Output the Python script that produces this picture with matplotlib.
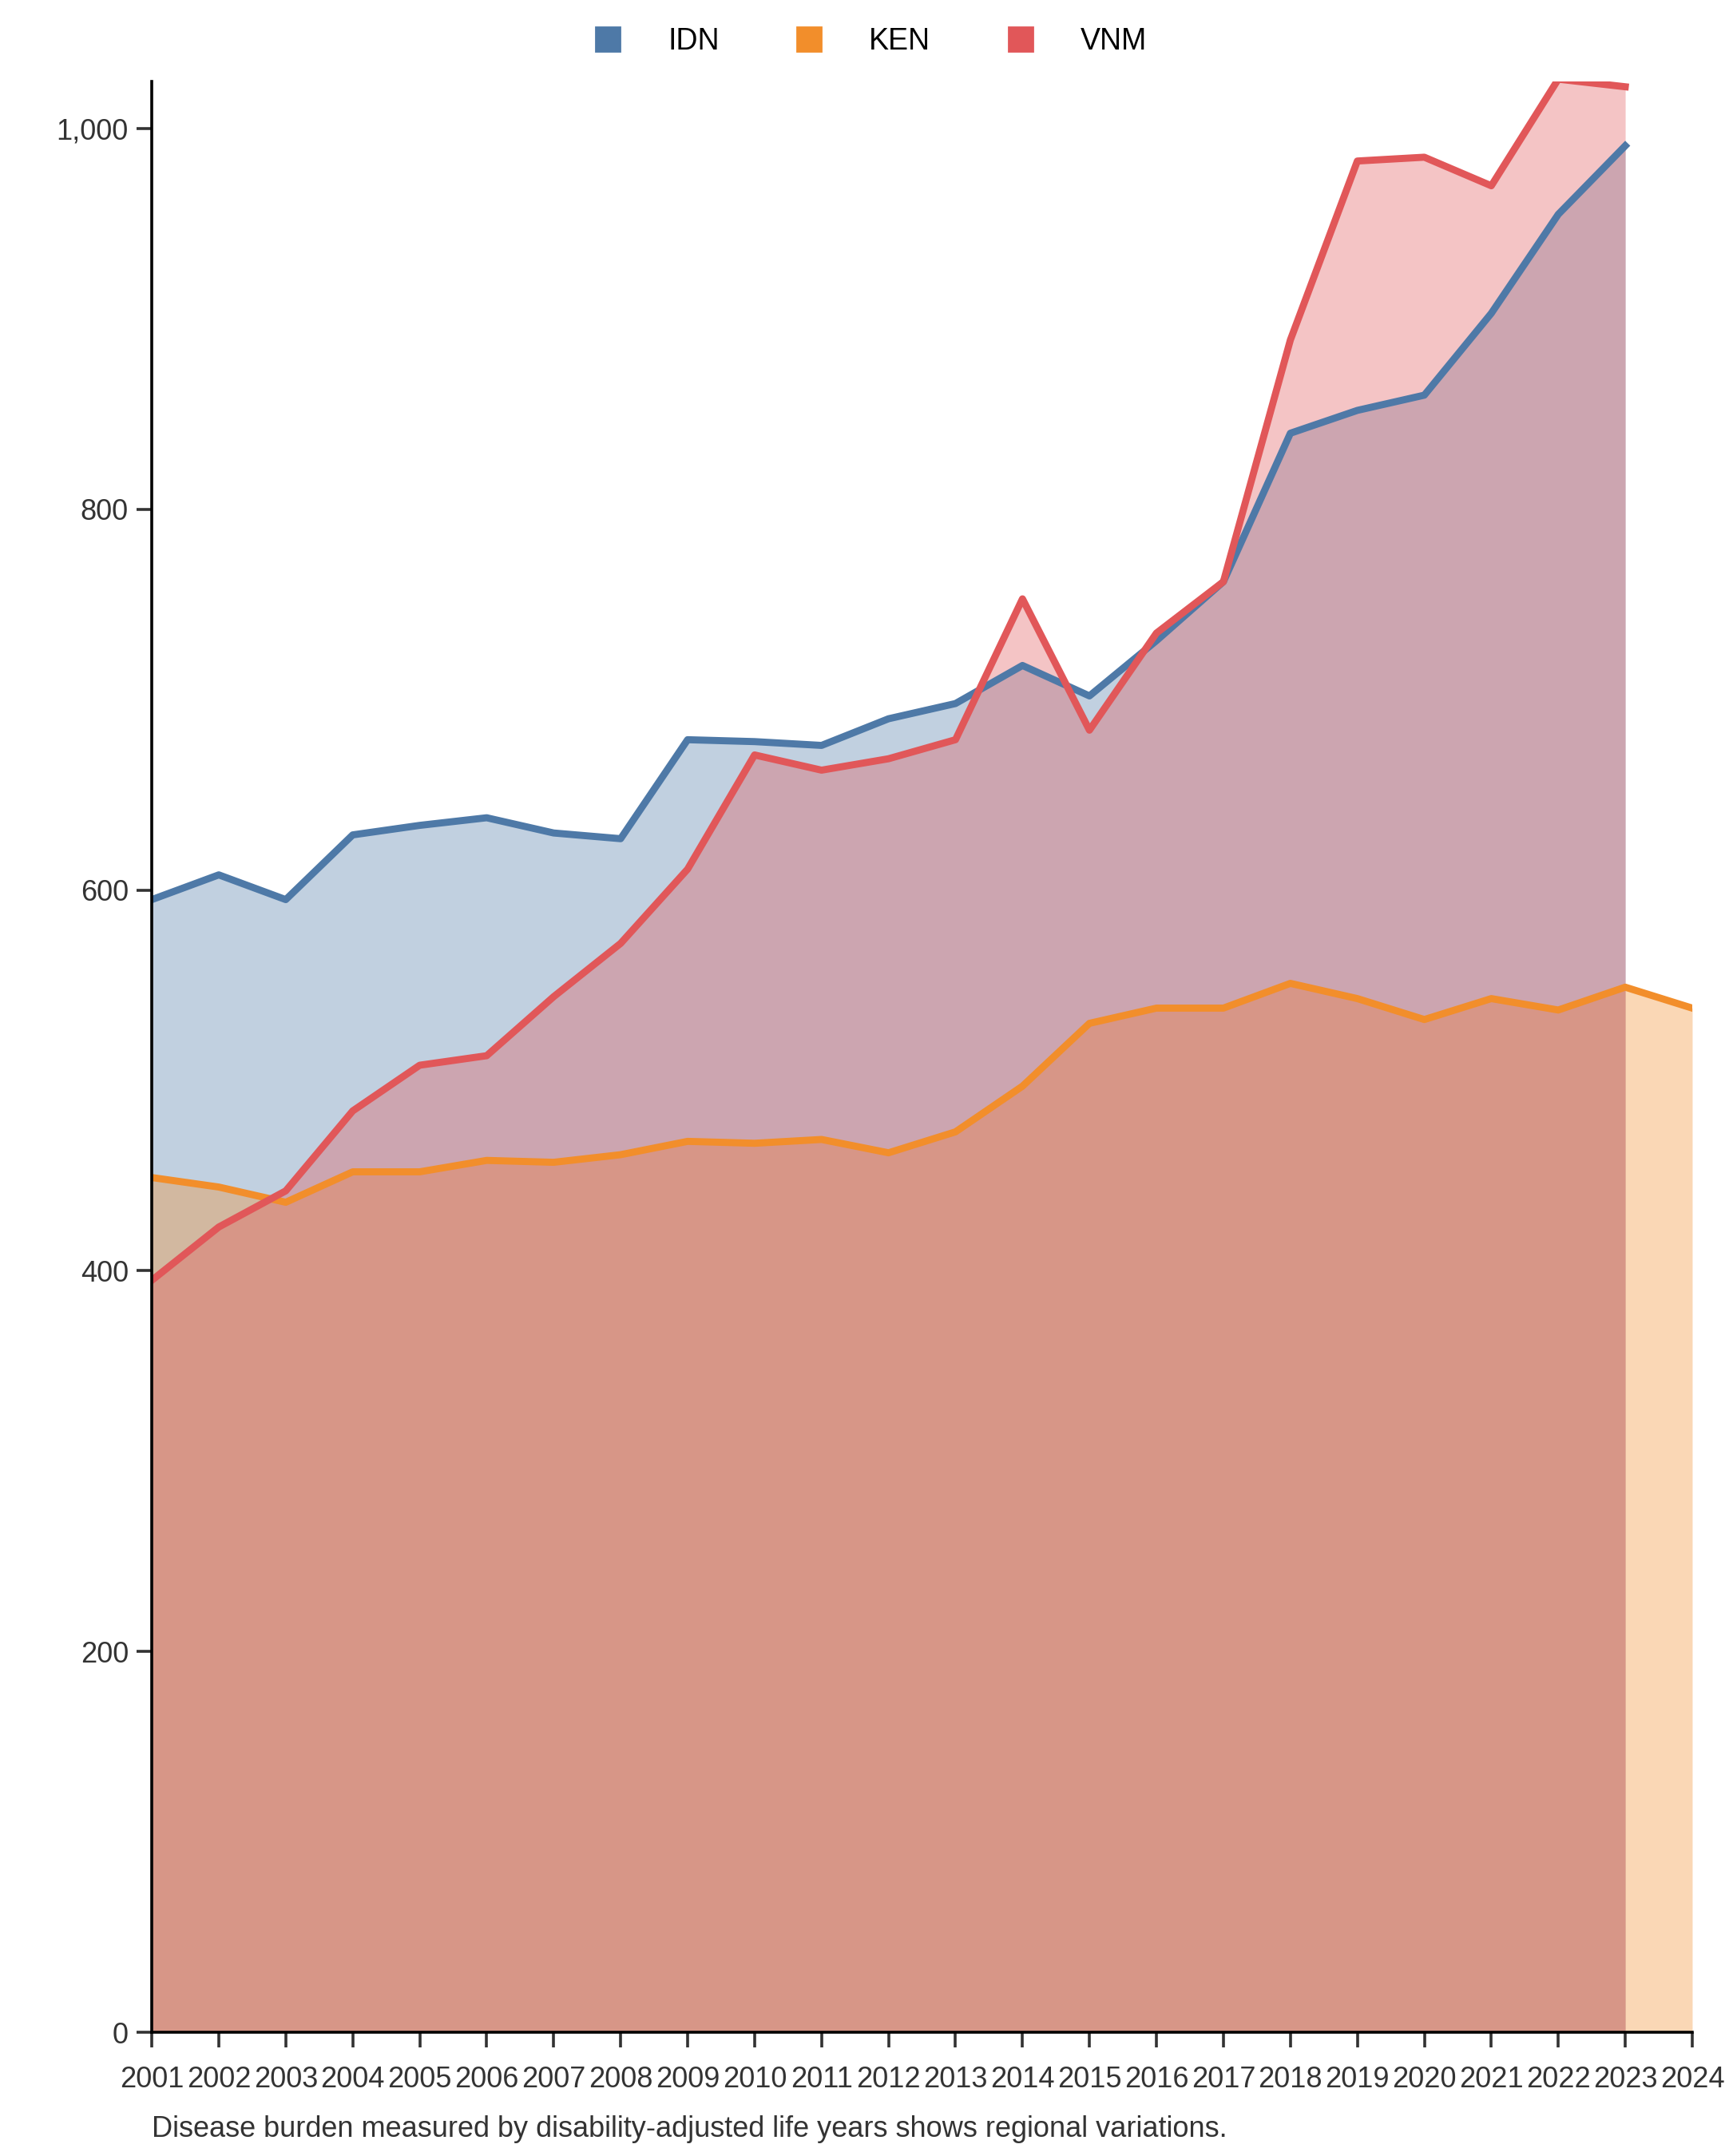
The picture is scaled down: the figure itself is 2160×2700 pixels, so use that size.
import matplotlib
matplotlib.use("Agg")
import matplotlib.pyplot as plt
from matplotlib.lines import Line2D

plt.rcParams['font.family'] = ['Liberation Sans', 'DejaVu Sans']

years_idn = list(range(2001, 2024))
idn = [595,608,595,629,634,638,630,627,679,678,676,690,698,718,702,731,762,840,852,860,903,955,991]
years_ken = list(range(2001, 2025))
ken = [449,444,436,452,452,458,457,461,468,467,469,462,473,497,530,538,538,551,543,532,543,537,549,538]
years_vnm = list(range(2001, 2024))
vnm = [395,423,442,484,508,513,544,572,611,671,663,669,679,753,684,735,762,889,983,985,970,1026,1022]
caption = "Disease burden measured by disability-adjusted life years shows regional variations."

colors = {"IDN": "#4e79a7", "KEN": "#f28e2b", "VNM": "#e15759"}
series = [("IDN", years_idn, idn), ("KEN", years_ken, ken), ("VNM", years_vnm, vnm)]

fig = plt.figure(figsize=(10.8, 13.5), dpi=200)
ax = fig.add_axes([0.088, 0.0574, 0.893, 0.905])
for name, x, y in series:
    ax.fill_between(x, 0, y, color=colors[name], alpha=0.35, linewidth=0)
    ax.plot(x, y, color=colors[name], linewidth=3.2)

ax.set_xlim(2001, 2024)
ax.set_ylim(0, 1025)
ax.set_xticks(years_ken)
ax.set_xticklabels([str(v) for v in years_ken])
ax.set_yticks([0, 200, 400, 600, 800, 1000])
ax.set_yticklabels(["0", "200", "400", "600", "800", "1,000"])
for s in ["top", "right"]:
    ax.spines[s].set_visible(False)
for s in ["left", "bottom"]:
    ax.spines[s].set_linewidth(1.3)
ax.tick_params(axis="both", labelsize=13, colors="#333333", length=7, width=1.3, direction="out")
ax.tick_params(axis="x", pad=8)

handles = [Line2D([0], [0], marker="s", linestyle="", markersize=11, color=colors[n]) for n, _, _ in series]
fig.legend(handles, [n for n, _, _ in series], loc="upper center", bbox_to_anchor=(0.5, 1.0),
           ncol=3, frameon=False, fontsize=13.5, handletextpad=1.0, columnspacing=2.0)
fig.text(0.088, 0.006, caption, fontsize=13, color="#333333", ha="left", va="bottom")
fig.savefig("out.png", dpi=200)
